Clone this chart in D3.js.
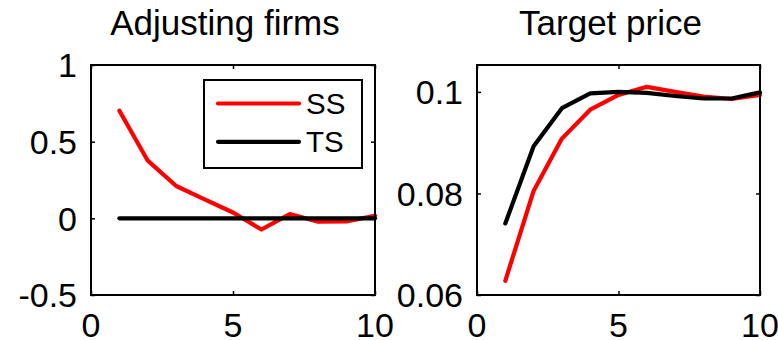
<!DOCTYPE html>
<html>
<head>
<meta charset="utf-8">
<script src="https://cdn.jsdelivr.net/npm/d3@7"></script>
<style>
  html, body { margin: 0; padding: 0; background: #fff; }
  svg { display: block; }
  text { font-family: "Liberation Sans", Arial, Helvetica, sans-serif; fill: #000; }
</style>
</head>
<body>
<svg id="chart" width="778" height="340"></svg>
<script>
// Horizon (periods after the shock)
const periods = [1, 2, 3, 4, 5, 6, 7, 8, 9, 10];

// Share of adjusting firms
const adjustSS = [0.702, 0.376, 0.211, 0.124, 0.038, -0.073, 0.028, -0.022, -0.020, 0.017];
const adjustTS = [0, 0, 0, 0, 0, 0, 0, 0, 0, 0];

// Target price response
const targetSS = [0.0628, 0.0805, 0.0908, 0.0965, 0.0994, 0.1010, 0.1000, 0.0991, 0.0986, 0.0994];
const targetTS = [0.0741, 0.0893, 0.0968, 0.0997, 0.1000, 0.0998, 0.0992, 0.0987, 0.0987, 0.0999];

// Axis ticks
const xTicks = [0, 5, 10];
const adjustTicks = [-0.5, 0, 0.5, 1];
const targetTicks = [0.06, 0.08, 0.1];
const adjustTickLabels = ["-0.5", "0", "0.5", "1"];
const targetTickLabels = ["0.06", "0.08", "0.1"];

const seriesNames = ["SS", "TS"];
const seriesColors = ["#ff0000", "#000000"];

const svg = d3.select("#chart");

function panel(cfg) {
  const x = d3.scaleLinear().domain([0, 10]).range([cfg.left, cfg.right]);
  const y = d3.scaleLinear().domain(cfg.yDomain).range([cfg.bottom, cfg.top]);
  const g = svg.append("g");
  const tickLen = 4;

  // inward ticks on all four sides
  const xAxisB = d3.axisBottom(x).tickValues(xTicks).tickSize(-tickLen).tickFormat("");
  const xAxisT = d3.axisTop(x).tickValues(xTicks).tickSize(-tickLen).tickFormat("");
  const yAxisL = d3.axisLeft(y).tickValues(cfg.yTicks).tickSize(-tickLen).tickFormat("");
  const yAxisR = d3.axisRight(y).tickValues(cfg.yTicks).tickSize(-tickLen).tickFormat("");
  [[xAxisB, `translate(0,${cfg.bottom})`], [xAxisT, `translate(0,${cfg.top})`],
   [yAxisL, `translate(${cfg.left},0)`], [yAxisR, `translate(${cfg.right},0)`]].forEach(([ax, tr]) => {
    const a = g.append("g").attr("transform", tr).call(ax);
    a.select(".domain").remove();
    a.selectAll(".tick line").attr("stroke", "#000").attr("stroke-width", 1.5);
  });

  // tick labels
  g.selectAll(".xlab").data(xTicks).enter().append("text")
    .attr("x", d => x(d)).attr("y", cfg.bottom + 42)
    .attr("text-anchor", "middle").attr("font-size", 34)
    .text(d => String(d));
  g.selectAll(".ylab").data(cfg.yTicks).enter().append("text")
    .attr("x", cfg.left - 14).attr("y", d => y(d))
    .attr("dy", "0.36em")
    .attr("text-anchor", "end").attr("font-size", 34)
    .text((d, i) => cfg.yTickLabels[i]);

  // series lines
  const line = d3.line().x((d, i) => x(periods[i])).y(d => y(d));
  cfg.series.forEach((vals, k) => {
    g.append("path").datum(vals)
      .attr("d", line)
      .attr("fill", "none")
      .attr("stroke", seriesColors[k])
      .attr("stroke-width", 4.2)
      .attr("stroke-linejoin", "round")
      .attr("stroke-linecap", "round");
  });

  // axes box
  g.append("rect")
    .attr("x", cfg.left).attr("y", cfg.top)
    .attr("width", cfg.right - cfg.left).attr("height", cfg.bottom - cfg.top)
    .attr("fill", "none").attr("stroke", "#000").attr("stroke-width", 2);

  // title
  g.append("text")
    .attr("x", (cfg.left + cfg.right) / 2 - 8).attr("y", 35)
    .attr("text-anchor", "middle").attr("font-size", 35)
    .text(cfg.title);

  return { x, y, g };
}

const left = panel({
  left: 91, right: 375, top: 65, bottom: 295,
  yDomain: [-0.5, 1], yTicks: adjustTicks, yTickLabels: adjustTickLabels,
  series: [adjustSS, adjustTS], title: "Adjusting firms"
});

panel({
  left: 477, right: 760, top: 65, bottom: 295,
  yDomain: [0.06, 0.1053], yTicks: targetTicks, yTickLabels: targetTickLabels,
  series: [targetSS, targetTS], title: "Target price"
});

// legend in the left panel
const lg = left.g.append("g");
lg.append("rect")
  .attr("x", 204).attr("y", 80).attr("width", 158).attr("height", 88)
  .attr("fill", "#fff").attr("stroke", "#000").attr("stroke-width", 2);
seriesNames.forEach((name, k) => {
  const cy = 103.5 + k * 38.3;
  lg.append("line")
    .attr("x1", 218).attr("x2", 299).attr("y1", cy).attr("y2", cy)
    .attr("stroke", seriesColors[k]).attr("stroke-width", 4.2)
    .attr("stroke-linecap", "round");
  lg.append("text")
    .attr("x", 306).attr("y", cy).attr("dy", "0.36em")
    .attr("font-size", 29.5)
    .text(name);
});
</script>
</body>
</html>
